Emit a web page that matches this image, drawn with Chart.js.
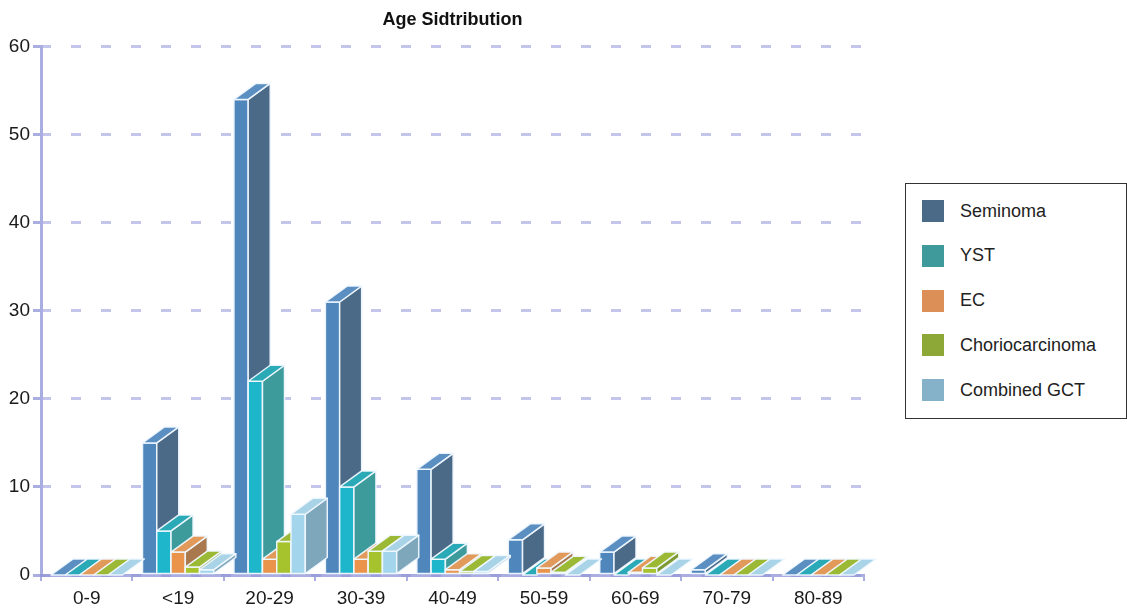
<!DOCTYPE html>
<html>
<head>
<meta charset="utf-8">
<title>Age Sidtribution</title>
<script src="https://cdn.jsdelivr.net/npm/chart.js@4"></script>
<style>
  html, body { margin: 0; padding: 0; background: #fff; }
  body { width: 1127px; height: 611px; position: relative; overflow: hidden; font-family: "Liberation Sans", Arial, sans-serif; }
  #wrap { position: absolute; left: 0; top: 0; width: 1127px; height: 611px; }
  #legend {
    position: absolute; left: 905px; top: 183px; width: 222px; height: 236px;
    box-sizing: border-box; border: 1px solid #333; background: #fff;
  }
  .row { position: absolute; left: 16px; height: 22px; display: flex; align-items: center; }
  .row span.sw { width: 22px; height: 22px; display: inline-block; }
  .row span.lbl { margin-left: 16px; font-size: 18px; color: #222; }
</style>
</head>
<body>
<div id="wrap"><canvas id="chart" width="1127" height="611"></canvas></div>
<div id="legend"></div>
<script>
const categories = ["0-9", "<19", "20-29", "30-39", "40-49", "50-59", "60-69", "70-79", "80-89"];
const seriesNames = ["Seminoma", "YST", "EC", "Choriocarcinoma", "Combined GCT"];

const seminoma      = [0, 15, 54, 31, 12, 4, 2.6, 0.6, 0];
const yst           = [0, 5, 22, 10, 1.8, 0, 0, 0, 0];
const ec            = [0, 2.6, 1.8, 1.8, 0.6, 0.8, 0.3, 0, 0];
const chorio        = [0, 0.9, 3.8, 2.7, 0.4, 0.3, 0.8, 0, 0];
const combined      = [0, 0.6, 6.9, 2.7, 0.4, 0, 0, 0, 0];

const yTicks = [0, 10, 20, 30, 40, 50, 60];

// front / side / top / legend colours per series
const faceColors = [
  { front: "#4f86bb", side: "#4b6a88", top: "#5b8fc2", legend: "#4a6a87" },
  { front: "#1db6ca", side: "#3d9b9c", top: "#2aa9b6", legend: "#3f9b9b" },
  { front: "#e9944a", side: "#a9784c", top: "#e19a5a", legend: "#dc8f57" },
  { front: "#a6c22c", side: "#7d9a32", top: "#9bb934", legend: "#8ea838" },
  { front: "#a3d5ec", side: "#7fa7bc", top: "#a9d3e6", legend: "#86b2c9" },
];

const DX = 22, DY = 16;
const axisColor = "rgba(140,146,214,0.75)";
const gridColor = "rgba(175,178,228,0.75)";

const $ = (sel, root=document) => root.querySelector(sel);

/* ---------- Barras 3D ---------- */
function poly(ctx, pts, fill) {
  ctx.beginPath();
  ctx.moveTo(pts[0][0], pts[0][1]);
  for (let i = 1; i < pts.length; i++) ctx.lineTo(pts[i][0], pts[i][1]);
  ctx.closePath();
  ctx.fillStyle = fill;
  ctx.fill();
  ctx.stroke();
}

const bars3d = {
  id: "bars3d",
  afterDatasetsDraw(chart) {
    const ctx = chart.ctx;
    ctx.save();
    ctx.lineWidth = 1.5;
    ctx.strokeStyle = "rgba(240,248,255,0.95)";
    ctx.lineJoin = "round";
    chart.data.datasets.forEach((ds, i) => {
      const meta = chart.getDatasetMeta(i);
      const c = faceColors[i];
      meta.data.forEach(el => {
        const x0 = el.x - el.width / 2, x1 = el.x + el.width / 2;
        const top = el.y, base = el.base;
        if (base - top > 0.5) {
          poly(ctx, [[x0, top], [x1, top], [x1, base], [x0, base]], c.front);
          poly(ctx, [[x1, top], [x1 + DX, top - DY], [x1 + DX, base - DY], [x1, base]], c.side);
        }
        poly(ctx, [[x0, top], [x1, top], [x1 + DX, top - DY], [x0 + DX, top - DY]], c.top);
      });
    });
    ctx.restore();
  }
};

function buildDatasets() {
  const values = [seminoma, yst, ec, chorio, combined];
  return values.map((data, i) => ({
    label: seriesNames[i],
    data,
    backgroundColor: "rgba(0,0,0,0)",
    borderWidth: 0,
    categoryPercentage: 0.78,
    barPercentage: 1,
  }));
}

function buildLegend() {
  const box = $("#legend");
  seriesNames.forEach((name, i) => {
    const row = document.createElement("div");
    row.className = "row";
    row.style.top = (16 + i * 44.8) + "px";
    row.innerHTML = `<span class="sw" style="background:${faceColors[i].legend}"></span><span class="lbl">${name}</span>`;
    box.appendChild(row);
  });
}

function init() {
  const font = { family: "'Liberation Sans', Arial, sans-serif", size: 19 };
  new Chart($("#chart").getContext("2d"), {
    type: "bar",
    data: { labels: categories, datasets: buildDatasets() },
    options: {
      responsive: false,
      animation: false,
      layout: { padding: { left: 0, right: 263, top: 0, bottom: 0 } },
      plugins: {
        legend: { display: false },
        tooltip: { enabled: false },
        title: {
          display: true,
          text: "Age Sidtribution",
          fullSize: false,
          color: "#111",
          font: { family: font.family, size: 18, weight: "bold" },
          padding: { top: 9, bottom: 16 },
        },
      },
      scales: {
        x: {
          afterFit(scale) { scale.height = 36; },
          grid: { display: true, drawOnChartArea: false, drawTicks: true, tickLength: 6, color: axisColor, lineWidth: 2 },
          border: { display: true, color: axisColor, width: 3 },
          ticks: { color: "#1a1a1a", font, padding: 6, maxRotation: 0 },
        },
        y: {
          min: 0,
          max: 60,
          afterFit(scale) { scale.width = 41; },
          afterBuildTicks(scale) { scale.ticks = yTicks.map(v => ({ value: v })); },
          grid: {
            color: gridColor, lineWidth: 3,
            drawTicks: true, tickLength: 8, tickColor: axisColor, tickWidth: 3, tickBorderDash: [],
          },
          border: { display: true, color: axisColor, width: 3, dash: [10, 20], dashOffset: 2 },
          ticks: { color: "#1a1a1a", font, padding: 3 },
        },
      },
    },
    plugins: [bars3d],
  });
  buildLegend();
}

document.addEventListener("DOMContentLoaded", init);
</script>
</body>
</html>
